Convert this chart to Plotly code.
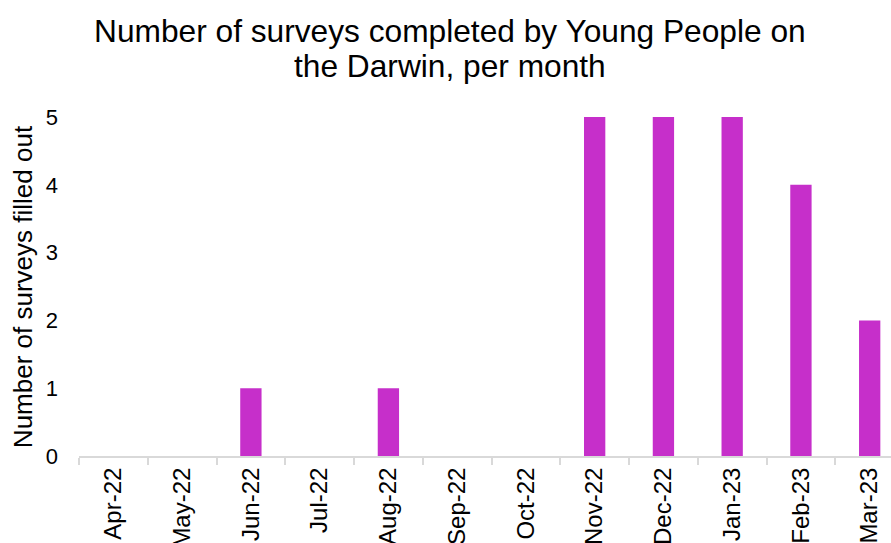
import plotly.graph_objects as go

# Monthly survey counts
months = ["Apr-22", "May-22", "Jun-22", "Jul-22", "Aug-22", "Sep-22",
          "Oct-22", "Nov-22", "Dec-22", "Jan-23", "Feb-23", "Mar-23"]
surveys = [0, 0, 1, 0, 1, 0, 0, 5, 5, 5, 4, 2]
y_ticks = [0, 1, 2, 3, 4, 5]

title_lines = ["Number of surveys completed by Young People on",
               "the Darwin, per month"]
y_title = "Number of surveys filled out"

FONT = "Liberation Sans, Arial, sans-serif"
BAR = "#C62FCA"
AXIS = "#D9D9D9"

fig = go.Figure(
    go.Bar(x=months, y=surveys, marker=dict(color=BAR, line=dict(width=0)))
)

# Two-line heading, placed line by line for tighter spacing
for text, ypos in zip(title_lines, [1.255, 1.150]):
    fig.add_annotation(
        text=text, xref="paper", yref="paper", x=0.457, y=ypos,
        xanchor="center", yanchor="middle", showarrow=False,
        font=dict(family=FONT, size=31.7, color="black"),
    )

# Vertical axis title
fig.add_annotation(
    text=y_title, xref="paper", yref="paper", x=-0.069, y=0.501,
    xanchor="center", yanchor="middle", textangle=-90, showarrow=False,
    font=dict(family=FONT, size=26, color="black"),
)

fig.update_layout(
    width=891,
    height=543,
    margin=dict(l=79, r=0, t=117, b=87, autoexpand=False),
    paper_bgcolor="white",
    plot_bgcolor="white",
    bargap=0.69,
    showlegend=False,
    font=dict(family=FONT, color="black"),
)

fig.update_xaxes(
    type="category",
    categoryorder="array",
    categoryarray=months,
    range=[-0.5, 11.31],
    tickangle=-90,
    tickson="boundaries",
    ticks="outside",
    ticklen=7,
    tickwidth=2,
    tickcolor=AXIS,
    showline=True,
    linecolor=AXIS,
    linewidth=2,
    showgrid=False,
    automargin=False,
    tickfont=dict(family=FONT, size=24, color="black"),
)

fig.update_yaxes(
    range=[0, 5],
    tickvals=y_ticks,
    showgrid=False,
    zeroline=False,
    showline=False,
    ticks="",
    automargin=False,
    ticklabelstandoff=20,
    tickfont=dict(family=FONT, size=22, color="black"),
)

fig.write_html("out.html")
